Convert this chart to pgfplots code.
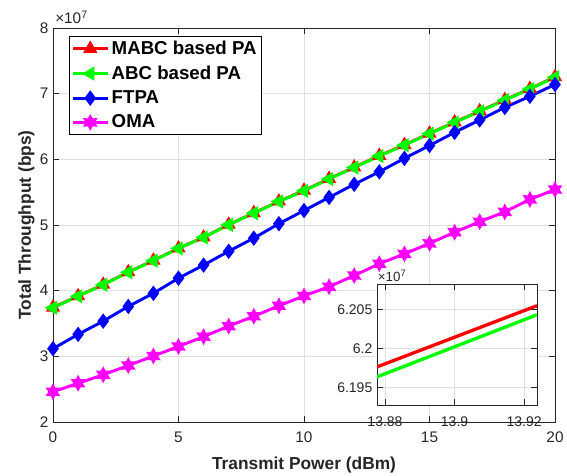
\documentclass[border=0pt]{standalone}
\usepackage{fontspec}
\setmainfont{Liberation Sans}
\usepackage{pgfplots}
\pgfplotsset{compat=1.18}

\definecolor{mgray}{RGB}{38,38,38}
\definecolor{mred}{RGB}{255,0,0}
\definecolor{mgreen}{RGB}{0,255,0}
\definecolor{mblue}{RGB}{0,0,255}
\definecolor{mmag}{RGB}{255,0,255}

% six-pointed star, like MATLAB's hexagram
\pgfdeclareplotmark{hexagram}{%
  \pgfpathmoveto{\pgfpointpolar{90}{\pgfplotmarksize}}%
  \pgfpathlineto{\pgfpointpolar{120}{0.55\pgfplotmarksize}}%
  \pgfpathlineto{\pgfpointpolar{150}{\pgfplotmarksize}}%
  \pgfpathlineto{\pgfpointpolar{180}{0.55\pgfplotmarksize}}%
  \pgfpathlineto{\pgfpointpolar{210}{\pgfplotmarksize}}%
  \pgfpathlineto{\pgfpointpolar{240}{0.55\pgfplotmarksize}}%
  \pgfpathlineto{\pgfpointpolar{270}{\pgfplotmarksize}}%
  \pgfpathlineto{\pgfpointpolar{300}{0.55\pgfplotmarksize}}%
  \pgfpathlineto{\pgfpointpolar{330}{\pgfplotmarksize}}%
  \pgfpathlineto{\pgfpointpolar{0}{0.55\pgfplotmarksize}}%
  \pgfpathlineto{\pgfpointpolar{30}{\pgfplotmarksize}}%
  \pgfpathlineto{\pgfpointpolar{60}{0.55\pgfplotmarksize}}%
  \pgfpathclose
  \pgfusepathqfillstroke}

\pgfplotsset{
  matlab/.style={
    scale only axis,
    axis line style={draw=mgray, line width=0.6pt},
    tick style={draw=mgray, line width=0.6pt},
    tick align=inside,
    grid=major,
    major grid style={draw=black!12, line width=0.5pt},
    /pgf/number format/assume math mode=true,
    ticklabel style={text=mgray},
  },
}

\begin{document}
\begin{tikzpicture}
\useasboundingbox (-39.75pt,-39.75pt) rectangle (385.5pt,316.5pt);
\begin{axis}[
    matlab,
    at={(0pt,0pt)}, anchor=south west,
    width=376.5pt, height=295.5pt,
    xmin=0, xmax=20, ymin=2, ymax=8,
    xtick={0,5,10,15,20}, ytick={2,3,4,5,6,7,8},
    ticklabel style={font=\fontsize{11.5}{12}\selectfont},
    xticklabel style={yshift=-4pt},
    xlabel={Transmit Power (dBm)},
    ylabel={Total Throughput (bps)},
    label style={font=\bfseries\fontsize{13}{14}\selectfont, text=mgray},
    xlabel style={at={(axis description cs:0.5,-0.108)}, anchor=center},
    ylabel style={at={(axis description cs:-0.053,0.5)}, anchor=center},
    every axis plot/.append style={line width=2.2pt, mark size=4pt},
    legend style={at={(rel axis cs:0.032,0.98)}, anchor=north west,
      draw=black, line width=0.6pt, fill=white,
      font=\bfseries\fontsize{14}{15}\selectfont,
      inner sep=1.5pt, row sep=3pt},
    legend cell align=left,
    legend image code/.code={%
      \draw[mark repeat=2, mark phase=2] plot coordinates {(0pt,0pt) (13pt,0pt) (26pt,0pt)};},
]
\addplot[mred, mark=triangle*, mark options={fill=mred}] coordinates {
 (0,3.745) (1,3.918) (2,4.093) (3,4.283) (4,4.460) (5,4.646) (6,4.813) (7,5.006)
 (8,5.183) (9,5.360) (10,5.525) (11,5.705) (12,5.880) (13,6.055) (14,6.220)
 (15,6.395) (16,6.565) (17,6.735) (18,6.905) (19,7.075) (20,7.255)};
\addlegendentry{MABC based PA}
\addplot[mgreen, mark=triangle*, mark options={fill=mgreen, rotate=90}] coordinates {
 (0,3.739) (1,3.915) (2,4.090) (3,4.280) (4,4.457) (5,4.643) (6,4.810) (7,5.003)
 (8,5.180) (9,5.357) (10,5.520) (11,5.700) (12,5.875) (13,6.050) (14,6.215)
 (15,6.390) (16,6.560) (17,6.730) (18,6.900) (19,7.070) (20,7.250)};
\addlegendentry{ABC based PA}
\addplot[mblue, mark=diamond*, mark options={fill=mblue}] coordinates {
 (0,3.117) (1,3.334) (2,3.536) (3,3.760) (4,3.960) (5,4.190) (6,4.390) (7,4.600)
 (8,4.800) (9,5.020) (10,5.220) (11,5.420) (12,5.620) (13,5.810) (14,6.015)
 (15,6.210) (16,6.410) (17,6.600) (18,6.790) (19,6.960) (20,7.140)};
\addlegendentry{FTPA}
\addplot[mmag, mark=hexagram, mark options={fill=mmag}] coordinates {
 (0,2.460) (1,2.590) (2,2.720) (3,2.860) (4,3.005) (5,3.150) (6,3.300) (7,3.460)
 (8,3.610) (9,3.770) (10,3.920) (11,4.060) (12,4.230) (13,4.410) (14,4.560)
 (15,4.720) (16,4.890) (17,5.050) (18,5.200) (19,5.390) (20,5.540)};
\addlegendentry{OMA}
\end{axis}
\node[anchor=base west, inner sep=0pt, text=mgray, font=\fontsize{11.5}{12}\selectfont]
  at (1.5pt,298.5pt) {×10\textsuperscript{7}};

% inset
\begin{axis}[
    matlab,
    at={(243pt,12.75pt)}, anchor=south west,
    width=120pt, height=90.75pt,
    axis background/.style={fill=white},
    xmin=13.8777, xmax=13.9237, ymin=6.1928, ymax=6.2083,
    xtick={13.88,13.9,13.92}, ytick={6.195,6.2,6.205},
    xticklabels={13.88,13.9,13.92}, yticklabels={6.195,6.2,6.205},
    ticklabel style={font=\fontsize{10.5}{11}\selectfont},
    xticklabel style={yshift=-5pt},
    every axis plot/.append style={line width=2.5pt},
    clip=true,
]
\addplot[mred, no markers] coordinates {(13.8777,6.19768) (13.9237,6.20552)};
\addplot[mgreen, no markers] coordinates {(13.8777,6.19640) (13.9237,6.20436)};
\end{axis}
\node[anchor=base west, inner sep=0pt, text=mgray, font=\fontsize{10}{11}\selectfont]
  at (243.5pt,105.75pt) {×10\textsuperscript{7}};
\end{tikzpicture}
\end{document}
